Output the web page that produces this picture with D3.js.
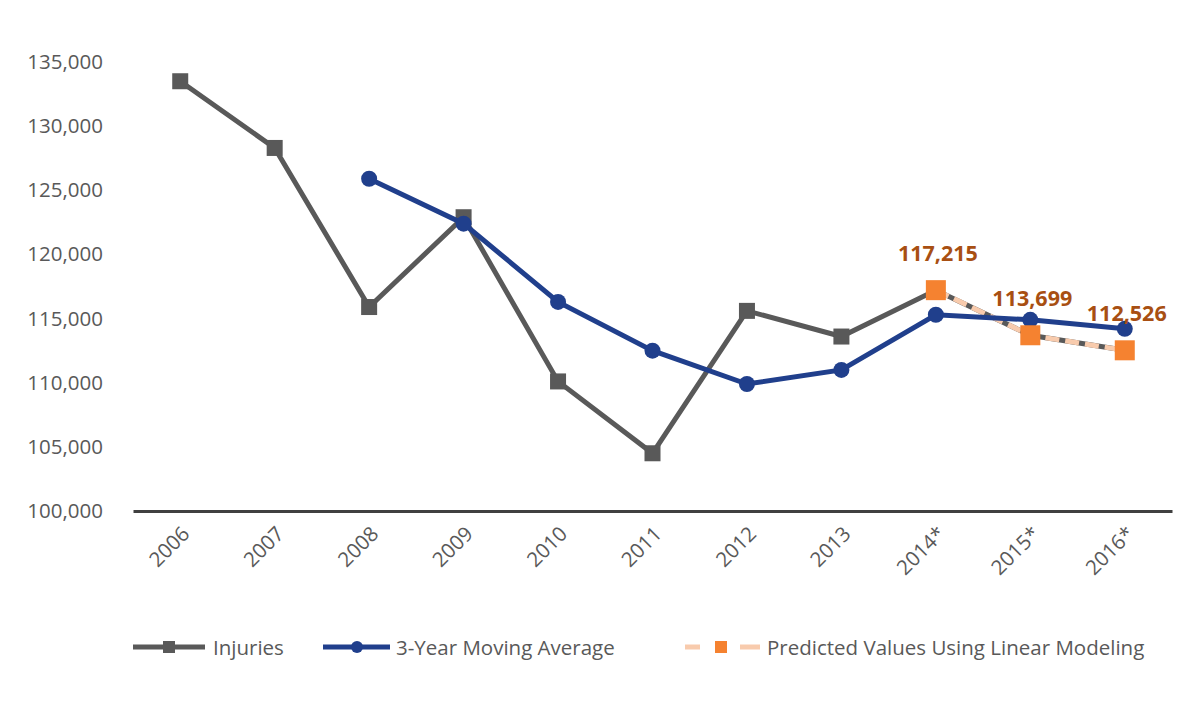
<!DOCTYPE html>
<html>
<head>
<meta charset="utf-8">
<script src="https://cdn.jsdelivr.net/npm/d3@7"></script>
<style>
  body { margin: 0; background: #fff; }
  text { font-family: "Open Sans", "Noto Sans", sans-serif; }
</style>
</head>
<body>
<div id="chart"></div>
<script>
const years = ["2006", "2007", "2008", "2009", "2010", "2011", "2012", "2013", "2014*", "2015*", "2016*"];
const injuries = [133500, 128300, 115900, 122900, 110100, 104500, 115600, 113600, 117215, 113699, 112526];
const movingAvg = [null, null, 125900, 122400, 116300, 112500, 109900, 111000, 115300, 114900, 114200];
const predictedYears = ["2014*", "2015*", "2016*"];
const predicted = [117215, 113699, 112526];
const yTicks = [100000, 105000, 110000, 115000, 120000, 125000, 130000, 135000];

const W = 1195, H = 708;
const margin = {top: 62, right: 23, bottom: 197, left: 133};
const width = W - margin.left - margin.right,
      height = H - margin.top - margin.bottom;

const svg = d3.select("#chart")
    .append("svg")
    .attr("width", W)
    .attr("height", H)
    .append("g")
    .attr("transform", `translate(${margin.left}, ${margin.top})`);

const x = d3.scalePoint()
    .domain(years)
    .range([0, width])
    .padding(0.5);

const y = d3.scaleLinear()
    .domain([100000, 135000])
    .range([height, 0]);

// Y axis labels, no axis line
const yAxis = svg.append("g")
    .call(d3.axisLeft(y).tickValues(yTicks).tickSize(0).tickPadding(30).tickFormat(d3.format(",")));
yAxis.select(".domain").remove();
yAxis.selectAll("text")
    .style("font-size", "20.5px")
    .style("fill", "#595959");

// X axis
const xAxis = svg.append("g")
    .attr("transform", `translate(0, ${height})`)
    .call(d3.axisBottom(x).tickSize(0).tickSizeOuter(0));
xAxis.select(".domain")
    .attr("stroke", "#404040")
    .attr("stroke-width", 3);
xAxis.selectAll("text")
    .style("font-size", "20.5px")
    .style("fill", "#595959")
    .style("text-anchor", "end")
    .attr("dx", 0)
    .attr("dy", 0)
    .attr("transform", "translate(8, 22) rotate(-45)");

const line = d3.line()
    .defined(d => d[1] != null)
    .x(d => x(d[0]))
    .y(d => y(d[1]));

// Injuries
const injData = years.map((yr, i) => [yr, injuries[i]]);
svg.append("path")
    .datum(injData)
    .attr("fill", "none")
    .attr("stroke", "#595959")
    .attr("stroke-width", 5)
    .attr("d", line);
svg.append("g")
    .selectAll("rect")
    .data(injData.slice(0, 8))
    .join("rect")
    .attr("x", d => x(d[0]) - 8)
    .attr("y", d => y(d[1]) - 8)
    .attr("width", 16)
    .attr("height", 16)
    .attr("fill", "#595959");

// Predicted dashed line
const predData = predictedYears.map((yr, i) => [yr, predicted[i]]);
svg.append("path")
    .datum(predData)
    .attr("fill", "none")
    .attr("stroke", "#F8CBAD")
    .attr("stroke-width", 5)
    .attr("stroke-dasharray", "14,6")
    .attr("d", line);

// Moving average
const avgData = years.map((yr, i) => [yr, movingAvg[i]]);
svg.append("path")
    .datum(avgData)
    .attr("fill", "none")
    .attr("stroke", "#203F8C")
    .attr("stroke-width", 5)
    .attr("d", line);
svg.append("g")
    .selectAll("circle")
    .data(avgData.filter(d => d[1] != null))
    .join("circle")
    .attr("cx", d => x(d[0]))
    .attr("cy", d => y(d[1]))
    .attr("r", 8)
    .attr("fill", "#203F8C");

// Predicted markers
svg.append("g")
    .selectAll("rect")
    .data(predData)
    .join("rect")
    .attr("x", d => x(d[0]) - 10)
    .attr("y", d => y(d[1]) - 10)
    .attr("width", 20)
    .attr("height", 20)
    .attr("fill", "#F58230");

// Value labels
svg.append("g")
    .selectAll("text")
    .data(predData)
    .join("text")
    .attr("x", d => x(d[0]) + 2)
    .attr("y", d => y(d[1]) - 29)
    .attr("text-anchor", "middle")
    .style("font-size", "21.5px")
    .style("font-weight", "bold")
    .style("fill", "#A84F12")
    .text(d => d3.format(",")(d[1]));

// Legend
const legend = svg.append("g")
    .attr("transform", `translate(0, ${647 - margin.top})`);

legend.append("line")
    .attr("x1", 0).attr("x2", 72).attr("y1", 0).attr("y2", 0)
    .attr("stroke", "#595959").attr("stroke-width", 5);
legend.append("rect")
    .attr("x", 30).attr("y", -6).attr("width", 12).attr("height", 12)
    .attr("fill", "#595959");
legend.append("text")
    .attr("x", 80).attr("y", 8)
    .style("font-size", "20.5px").style("fill", "#595959")
    .text("Injuries");

legend.append("line")
    .attr("x1", 190).attr("x2", 257).attr("y1", 0).attr("y2", 0)
    .attr("stroke", "#203F8C").attr("stroke-width", 5);
legend.append("circle")
    .attr("cx", 224).attr("cy", 0).attr("r", 6)
    .attr("fill", "#203F8C");
legend.append("text")
    .attr("x", 263).attr("y", 8)
    .style("font-size", "20.5px").style("fill", "#595959")
    .text("3-Year Moving Average");

legend.append("line")
    .attr("x1", 552).attr("x2", 567).attr("y1", 0).attr("y2", 0)
    .attr("stroke", "#F8CBAD").attr("stroke-width", 5);
legend.append("line")
    .attr("x1", 607).attr("x2", 627).attr("y1", 0).attr("y2", 0)
    .attr("stroke", "#F8CBAD").attr("stroke-width", 5);
legend.append("rect")
    .attr("x", 582).attr("y", -6).attr("width", 12).attr("height", 12)
    .attr("fill", "#F58230");
legend.append("text")
    .attr("x", 634).attr("y", 8)
    .style("font-size", "20.5px").style("fill", "#595959")
    .text("Predicted Values Using Linear Modeling");
</script>
</body>
</html>
